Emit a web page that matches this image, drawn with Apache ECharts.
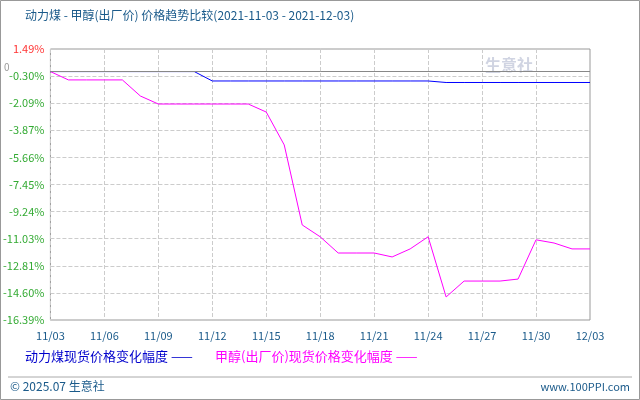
<!DOCTYPE html><html><head><meta charset="utf-8"><script src="https://cdn.jsdelivr.net/npm/echarts@6/dist/echarts.min.js"></script>
<style>body{margin:0}#c{width:640px;height:400px}</style></head><body><div id="c"></div><script>
var categories=['11/03','11/04','11/05','11/06','11/07','11/08','11/09','11/10','11/11','11/12','11/13','11/14','11/15','11/16','11/17','11/18','11/19','11/20','11/21','11/22','11/23','11/24','11/25','11/26','11/27','11/28','11/29','11/30','12/01','12/02','12/03'];
var coal=[0,0,0,0,0,0,0,0,0,-0.62,-0.62,-0.62,-0.62,-0.62,-0.62,-0.62,-0.62,-0.62,-0.62,-0.62,-0.62,-0.62,-0.72,-0.72,-0.72,-0.72,-0.72,-0.72,-0.72,-0.72,-0.72];
var methanol=[0,-0.55,-0.55,-0.55,-0.55,-1.61,-2.14,-2.14,-2.14,-2.14,-2.14,-2.14,-2.67,-4.84,-10.12,-10.9,-11.97,-11.97,-11.97,-12.23,-11.7,-10.9,-14.87,-13.82,-13.82,-13.82,-13.69,-11.1,-11.31,-11.7,-11.7];
var yTicks=['1.49%','-0.30%','-2.09%','-3.87%','-5.66%','-7.45%','-9.24%','-11.03%','-12.81%','-14.60%','-16.39%'];
var F='SimSun,"Noto Sans CJK SC",monospace';
var ch=echarts.init(document.getElementById('c'));
ch.setOption({animation:false,backgroundColor:'#fff',
graphic:[
{type:'rect',shape:{x:0.5,y:0.5,width:639,height:399},style:{fill:'none',stroke:'#999'}},
{type:'text',left:25,top:9,style:{text:'动力煤 - 甲醇(出厂价) 价格趋势比较(2021-11-03 - 2021-12-03)',fill:'#1a5a8a',font:'12px '+F}},
{type:'text',left:485,top:57,style:{text:'生意社',fill:'rgba(150,160,190,0.45)',font:'bold 16px '+F}},
{type:'text',left:25,top:350,style:{text:'动力煤现货价格变化幅度 ——',fill:'#0000cc',font:'13px '+F}},
{type:'text',left:215,top:350,style:{text:'甲醇(出厂价)现货价格变化幅度 ——',fill:'#ff00ff',font:'13px '+F}},
{type:'line',shape:{x1:8,y1:377,x2:632,y2:377},style:{stroke:'#aaa',lineWidth:1}},
{type:'text',left:10,top:380,style:{text:'© 2025.07 生意社',fill:'#1a5a8a',font:'12px '+F}},
{type:'text',right:10,top:381,style:{text:'www.100PPI.com',fill:'#1a5a8a',font:'11px '+F}}
],
grid:{left:50,right:50,top:49,bottom:80,show:true,borderColor:'#999',borderWidth:1},
xAxis:{type:'category',data:categories,boundaryGap:false,axisLine:{show:false},axisTick:{show:false},
axisLabel:{interval:2,color:'#1a5a8a',fontFamily:F,fontSize:11,margin:10},
splitLine:{show:true,interval:2,lineStyle:{color:'#ccc',type:'dashed'}}},
yAxis:{type:'value',min:-16.39,max:1.49,interval:1.788,axisLine:{show:false},axisTick:{show:false},
axisLabel:{fontFamily:F,fontSize:11,margin:6,formatter:function(v){var i=Math.round((1.49-v)/1.788);return yTicks[i]||'';},
color:function(v){return Math.abs(v-1.49)<0.01?'#ff3333':'#33aa33';}},
splitLine:{lineStyle:{color:'#ccc',type:'dashed'}}},
series:[
{type:'line',data:coal,symbol:'none',lineStyle:{color:'#0000ff',width:1},
markLine:{silent:true,symbol:'none',data:[{yAxis:0}],lineStyle:{color:'#888',type:'solid',width:1},label:{show:false}}},
{type:'line',data:methanol,symbol:'none',lineStyle:{color:'#ff00ff',width:1}}
]});
ch.setOption({graphic:ch.getOption().graphic[0].elements.concat([{type:'text',left:4,top:ch.convertToPixel({yAxisIndex:0},0)-9,style:{text:'0',fill:'#999',font:'10px '+F}}])});
</script></body></html>
